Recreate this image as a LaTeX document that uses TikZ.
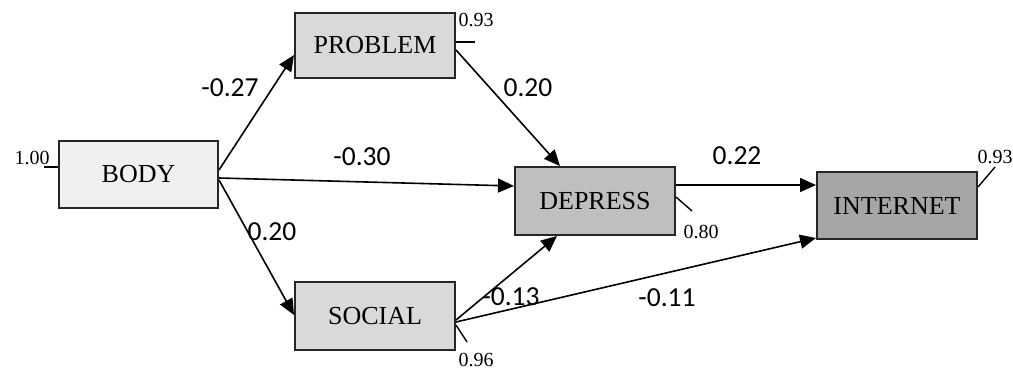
\documentclass[tikz,border=0pt]{standalone}
\usepackage{fontspec}
\setmainfont{Liberation Serif}
\newfontfamily\lblfont{Carlito}
\usetikzlibrary{arrows.meta,calc}
\begin{document}
\begin{tikzpicture}[x=1pt,y=-1pt,
  var/.style={draw=black!85,line width=2pt,minimum width=160pt,minimum height=67pt,inner sep=0pt,font=\fontsize{26}{26}\selectfont},
  path/.style={line width=1.6pt,-{Triangle[length=16pt,width=14pt]}},
  coef/.style={font=\lblfont\fontsize{27.5}{27.5}\selectfont,inner sep=0pt},
  err/.style={font=\fontsize{20}{20}\selectfont,inner sep=0pt},
  tick/.style={line width=1.4pt}]
\useasboundingbox (0,0) rectangle (1013,369);
\node[var,fill=black!6,minimum width=159pt] (body) at (138.5,174.5) {BODY};
\node[var,fill=black!15,minimum height=65pt] (problem) at (375,45.5) {PROBLEM};
\node[var,fill=black!25,minimum height=68pt] (depress) at (595,201) {DEPRESS};
\node[var,fill=black!35] (internet) at (897,205.5) {INTERNET};
\node[var,fill=black!15,minimum height=68pt] (social) at (375,316) {SOCIAL};

\draw[path] ([yshift=4.5pt]body.east) -- ([yshift=-9.5pt]problem.west);
\draw[path] ([yshift=-3.5pt]body.east) -- ([yshift=15pt]depress.west);
\draw[path] ([yshift=-5.5pt]body.east) -- ([yshift=1pt]social.west);
\draw[path] ([yshift=-4.5pt]problem.east) -- ([xshift=-35pt]depress.north);
\draw[path] ([yshift=-4pt]social.east) -- ([xshift=-38pt]depress.south);
\draw[path] ([yshift=-6pt]social.east) -- ([yshift=-32.5pt]internet.west);
\draw[path] ([yshift=16pt]depress.east) -- ([yshift=20.5pt]internet.west);

\node[coef] (c1) at (230,88) {-0.27};
\node[coef] (c2) at (362,157) {-0.30};
\node[coef] (c3) at (272,232) {0.20};
\node[coef] (c4) at (528,88) {0.20};
\node[coef] (c5) at (737,156) {0.22};
\node[coef] (c6) at (511,297) {-0.13};
\node[coef] (c7) at (667,298) {-0.11};

\coordinate (eb) at (44,167);
\draw[tick] ([yshift=7.5pt]body.west) -- (eb);
\node[err] (e1) at (32,158) {1.00};
\coordinate (ep) at (475,42);
\draw[tick] ([yshift=3.5pt]problem.east) -- (ep);
\node[err] (e2) at (476,20) {0.93};
\coordinate (ed) at (692,211);
\draw[tick] ([yshift=4pt]depress.east) -- (ed);
\node[err] (e3) at (701,232) {0.80};
\coordinate (ei) at (995,167);
\draw[tick] ([yshift=18.5pt]internet.east) -- (ei);
\node[err] (e4) at (995,157) {0.93};
\coordinate (es) at (467,342);
\draw[tick] ([yshift=-9pt]social.east) -- (es);
\node[err] (e5) at (476,360) {0.96};
\end{tikzpicture}
\end{document}
